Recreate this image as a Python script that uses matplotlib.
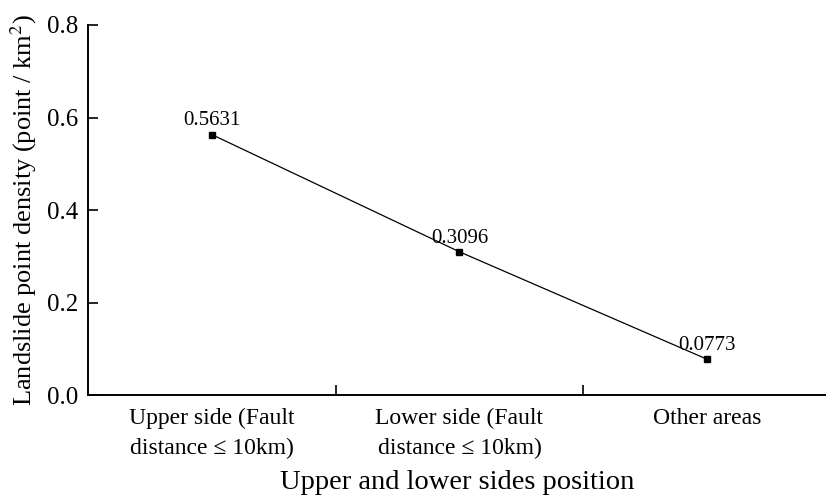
import matplotlib.pyplot as plt
import numpy as np

categories = ["Upper side (Fault\ndistance \u2264 10km)",
              "Lower side (Fault\ndistance \u2264 10km)",
              "Other areas"]
density = [0.5631, 0.3096, 0.0773]
value_labels = ["0.5631", "0.3096", "0.0773"]
y_ticks = [0.0, 0.2, 0.4, 0.6, 0.8]

plt.rcParams["font.family"] = ["Liberation Serif", "DejaVu Serif"]
plt.rcParams["mathtext.fontset"] = "stix"

fig = plt.figure(figsize=(8.26, 4.95), dpi=100)
ax = fig.add_axes([0.1065, 0.202, 0.8935, 0.7475])

x = np.arange(len(categories))
ax.plot(x, density, color="black", linewidth=0.9, marker="s", markersize=5,
        markerfacecolor="black", markeredgecolor="black")

for xi, yi, lab in zip(x, density, value_labels):
    ax.annotate(lab, (xi, yi), xytext=(0, 3), textcoords="offset points",
                ha="center", va="bottom", fontsize=15)

ax.set_xlim(-0.5, 2.48)
ax.set_ylim(0, 0.8)
ax.set_yticks(y_ticks)
ax.set_yticklabels([f"{t:.1f}" for t in y_ticks], fontsize=18)
ax.set_xticks(x)
ax.set_xticklabels(categories, fontsize=17, linespacing=1.55)
ax.set_xticks([0.5, 1.5], minor=True)
ax.tick_params(axis="x", which="major", length=0, pad=9.5)
ax.tick_params(axis="x", which="minor", direction="in", length=7, width=1.2)
ax.tick_params(axis="y", direction="in", length=7, width=1.2, pad=7)

for side in ("top", "right"):
    ax.spines[side].set_visible(False)
for side in ("left", "bottom"):
    ax.spines[side].set_linewidth(1.4)

ax.set_ylabel("Landslide point density (point / km$^2$)", fontsize=19, labelpad=6)
ax.set_xlabel("Upper and lower sides position", fontsize=20.5, labelpad=7.5)

fig.savefig("out.png", dpi=100)
plt.close(fig)
